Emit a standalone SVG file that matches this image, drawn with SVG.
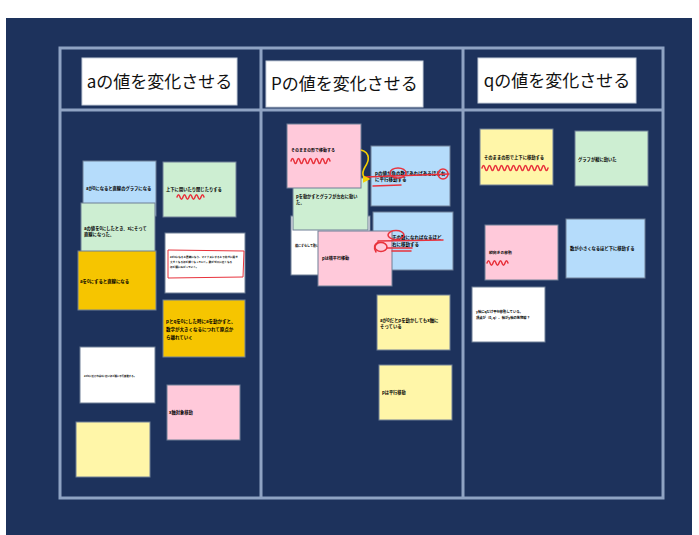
<svg xmlns="http://www.w3.org/2000/svg" width="699" height="535" viewBox="0 0 699 535">
<defs>
<style>
.grid{fill:none;stroke:#8fa3c3;stroke-width:3}
.hdr{fill:#ffffff;stroke:#c8d0dc;stroke-width:1}
.ht{font-family:"Noto Sans CJK JP","Noto Sans",sans-serif;font-size:17px;fill:#111}
.n{stroke:#6f7f96;stroke-width:1}
.blue{fill:#b5dcfb}.green{fill:#cdeed2}.gold{fill:#f6c500}.pale{fill:#fff6a8}.pink{fill:#ffc9da}.white{fill:#ffffff}
.t{font-family:"Noto Sans CJK JP","Noto Sans",sans-serif;font-size:4.3px;fill:#000;font-weight:bold}
.ts{font-family:"Noto Sans CJK JP","Noto Sans",sans-serif;font-size:2.6px;fill:#000;font-weight:bold}
.red{fill:none;stroke:#e8323c;stroke-width:1.5;stroke-linecap:round}
</style>
<marker id="ya" viewBox="0 0 10 10" refX="8" refY="5" markerWidth="5" markerHeight="5" orient="auto"><path d="M0 0L10 5L0 10z" fill="#f5d000"/></marker>
</defs>
<rect x="0" y="0" width="699" height="535" fill="#ffffff"/>
<rect x="6" y="18" width="686" height="517" fill="#1d325c"/>
<g id="grid">
<rect class="grid" x="60" y="48" width="603" height="450"/>
<line class="grid" x1="60" y1="110" x2="663" y2="110"/>
<line class="grid" x1="261" y1="48" x2="261" y2="498"/>
<line class="grid" x1="463" y1="48" x2="463" y2="498"/>
</g>
<g id="header-a"><rect class="hdr" x="82" y="58" width="155" height="47"/><text class="ht" x="159.5" y="88" text-anchor="middle">aの値を変化させる</text></g>
<g id="header-p"><rect class="hdr" x="266" y="61" width="157" height="46"/><text class="ht" x="344.5" y="90" text-anchor="middle">Pの値を変化させる</text></g>
<g id="header-q"><rect class="hdr" x="478" y="58" width="158" height="45"/><text class="ht" x="557" y="87" text-anchor="middle">qの値を変化させる</text></g>

<g id="a1"><rect class="n blue" x="83" y="161" width="73" height="55"/><text class="t" x="86" y="190">aが0になると直線のグラフになる</text></g>
<g id="a2"><rect class="n green" x="163" y="162" width="73" height="55"/><text class="t" x="166" y="191">上下に開いたり閉じたりする</text><path class="red" d="M177 197q1.5 -4.5 3 0t3 0t3 0t3 0t3 0t3 0t3 0t3 0t3 0"/></g>
<g id="a3"><rect class="n green" x="81" y="203" width="74" height="52"/><text class="t" x="84" y="230">aの値を0にしたとき、xにそって</text><text class="t" x="84" y="236">直線になった。</text></g>
<g id="a4"><rect class="n white" x="165" y="233" width="80" height="60"/><path d="M168 250L244 251L243 277L168 278Z" fill="none" stroke="#e8323c" stroke-width="1"/><text class="ts" x="170" y="258">aが0になると直線になり、マイナスにすると下向きに開き</text><text class="ts" x="170" y="263">大きくなるほど細くなっていく。数がゼロに近くなる</text><text class="ts" x="170" y="268">ほど横に広がっていく。</text></g>
<g id="a5"><rect class="n gold" x="78" y="251" width="78" height="59"/><text class="t" x="80" y="283" style="font-size:4.4px">aを0にすると直線になる</text></g>
<g id="a6"><rect class="n gold" x="163" y="300" width="82" height="57"/><text class="t" x="166" y="323" style="font-size:4.5px">pとqを0にした時にaを動かすと、</text><text class="t" x="166" y="331" style="font-size:4.5px">数字が大きくなるにつれて原点か</text><text class="t" x="166" y="339" style="font-size:4.5px">ら離れていく</text></g>
<g id="a7"><rect class="n white" x="80" y="347" width="75" height="56"/><text class="ts" x="84" y="377" style="font-size:2.4px">aが0に近ければ0に近いほど横に平行移動する。</text></g>
<g id="a8"><rect class="n pink" x="167" y="385" width="73" height="55"/><text class="t" x="169" y="414">x軸対象移動</text></g>
<g id="a9"><rect class="n pale" x="76" y="422" width="74" height="55"/></g>

<g id="p5"><rect class="n white" x="291" y="216" width="79" height="59"/><text class="ts" x="295" y="247" style="font-size:3px">横にずらして動いた</text></g>
<g id="p3"><rect class="n green" x="293" y="178" width="75" height="52"/><text class="t" x="296" y="198" style="font-size:4.2px">pを動かすとグラフが左右に動い</text><text class="t" x="296" y="204" style="font-size:4.2px">た。</text></g>
<g id="p1"><rect class="n pink" x="287" y="124" width="74" height="64"/><text class="t" x="291" y="152" style="font-size:4px">そのままの形で移動する</text><path class="red" d="M291 161q1.5 -5 3 0t3 0t3 0t3 0t3 0t3 0t3 0t3 0t3 0t3 0t3 0t3 0t3 0"/></g>
<g id="p2"><rect class="n blue" x="371" y="146" width="79" height="60"/><text class="t" x="375" y="175" style="font-size:4.5px">pの値が負の数であればあるほど右</text><text class="t" x="375" y="181" style="font-size:4.5px">に平行移動する</text><path class="red" d="M365 177L449 174M373 186L401 185"/><ellipse class="red" cx="398" cy="173" rx="8" ry="5"/><circle class="red" cx="443" cy="174" r="5"/></g>
<g id="p4"><rect class="n blue" x="373" y="212" width="80" height="58"/><text class="t" x="392" y="239" style="font-size:4.5px">正の数になればなるほど</text><text class="t" x="392" y="246" style="font-size:4.5px">右に移動する</text></g>
<g id="p6"><rect class="n pink" x="318" y="231" width="74" height="55"/><text class="t" x="322" y="260" style="font-size:4.1px">pは横平行移動</text></g>
<g id="p-marks"><ellipse class="red" cx="396" cy="235" rx="8" ry="4.5"/><path class="red" d="M378 241L443 240M387 248L412 248M392 251L411 251"/><ellipse class="red" cx="381" cy="247" rx="6" ry="4.5"/><path class="red" d="M376 252Q372 246 378 242"/></g>
<g id="p7"><rect class="n pale" x="377" y="295" width="73" height="55"/><text class="t" x="380" y="322" style="font-size:4.4px">aが0だとpを動かしてもx軸に</text><text class="t" x="380" y="328" style="font-size:4.4px">そっている</text></g>
<g id="p8"><rect class="n pale" x="379" y="365" width="73" height="55"/><text class="t" x="382" y="394" style="font-size:4.2px">pは平行移動</text></g>

<g id="q1"><rect class="n pale" x="480" y="129" width="73" height="56"/><text class="t" x="484" y="159">そのままの形で上下に移動する</text><path class="red" d="M482 168q1.5 -5 3 0t3 0t3 0t3 0t3 0t3 0t3 0t3 0t3 0t3 0t3 0t3 0t3 0t3 0t3 0t3 0t3 0t3 0t3 0t3 0t3 0t3 0"/></g>
<g id="q2"><rect class="n green" x="575" y="131" width="73" height="55"/><text class="t" x="578" y="161">グラフが縦に動いた</text></g>
<g id="q3"><rect class="n pink" x="485" y="225" width="73" height="55"/><text class="t" x="489" y="254" style="font-size:3.8px">縦向きの移動</text><path class="red" d="M487 263q1.5 -4.5 3 0t3 0t3 0t3 0t3 0t3 0t3 0"/></g>
<g id="q4"><rect class="n blue" x="566" y="219" width="79" height="59"/><text class="t" x="570" y="250">数が小さくなるほど下に移動する</text></g>
<g id="q5"><rect class="n white" x="472" y="287" width="73" height="55"/><text class="ts" x="476" y="313" style="font-size:3.3px">y軸にqだけ平行移動している。</text><text class="ts" x="476" y="319" style="font-size:3.3px">頂点が（0, q）、軸がy軸の放物線？</text></g>

<g id="connectors">
<path d="M361 150C371 153 369 161 365 167C361 174 363 179 369 179" fill="none" stroke="#f5d000" stroke-width="1.6" marker-end="url(#ya)"/>
</g>
</svg>
